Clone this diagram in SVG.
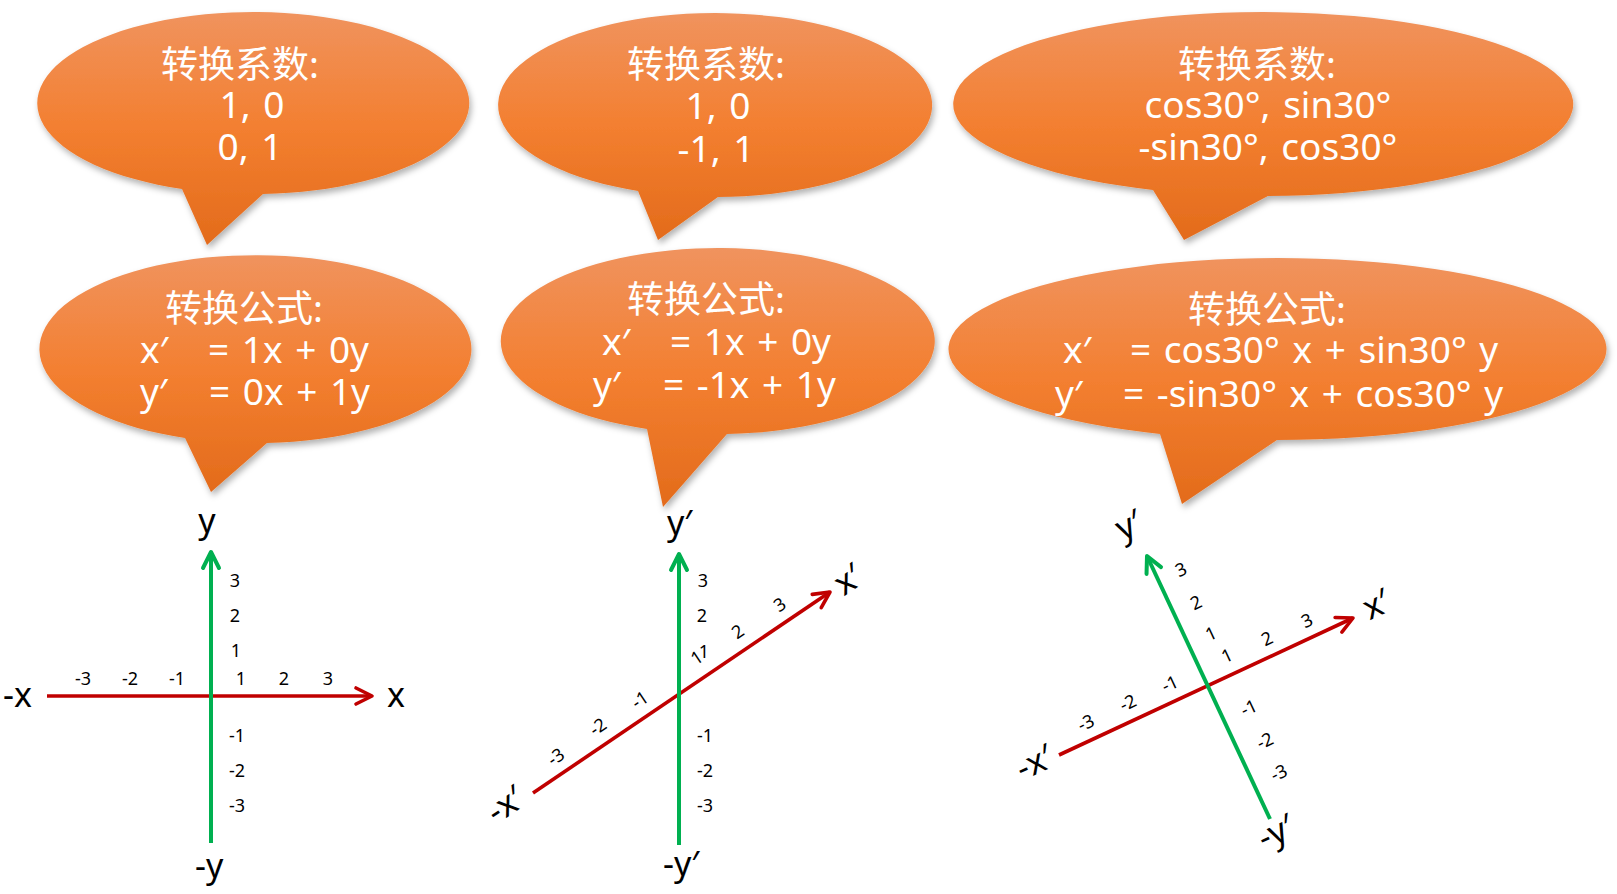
<svg xmlns="http://www.w3.org/2000/svg" width="1617" height="894" viewBox="0 0 1617 894">
<defs>
  <linearGradient id="og" x1="0" y1="0" x2="0" y2="1">
    <stop offset="0" stop-color="#F0935E"/>
    <stop offset="0.5" stop-color="#F37F30"/>
    <stop offset="1" stop-color="#E36B1B"/>
  </linearGradient>
  <filter id="sh" x="-10%" y="-10%" width="120%" height="130%">
    <feDropShadow dx="2" dy="4" stdDeviation="3" flood-color="#000" flood-opacity="0.3"/>
  </filter>
  <marker id="ag" viewBox="-20 -12 24 24" refX="0" refY="0" markerWidth="24" markerHeight="24" markerUnits="userSpaceOnUse" orient="auto" overflow="visible">
    <path d="M-16,-8 L0,0 L-16,8" fill="none" stroke="#00B050" stroke-width="4" stroke-linecap="round" stroke-linejoin="round"/>
  </marker>
  <marker id="ar" viewBox="-20 -12 24 24" refX="0" refY="0" markerWidth="24" markerHeight="24" markerUnits="userSpaceOnUse" orient="auto" overflow="visible">
    <path d="M-16,-8 L0,0 L-16,8" fill="none" stroke="#C00000" stroke-width="3.6" stroke-linecap="round" stroke-linejoin="round"/>
  </marker>
</defs>
<style>
  .bub { fill: url(#og); filter: url(#sh); }
  .bt { font-family: "Noto Sans", "Noto Sans CJK SC", sans-serif; font-size: 37px; fill: #FFFFFF; word-spacing: 3px; }
  .c { text-anchor: middle; }
  .ax { font-family: "Noto Sans", "Noto Sans CJK SC", sans-serif; font-size: 34px; fill: #000000; }
  .tk { font-family: "Noto Sans", sans-serif; font-size: 18px; fill: #000000; text-anchor: middle; }
  .g { stroke: #00B050; stroke-width: 4; fill: none; }
  .r { stroke: #C00000; stroke-width: 3.6; fill: none; }
</style>
<rect width="1617" height="894" fill="#FFFFFF"/>

<g id="bubble-coef-1">
  <path class="bub" d="M182,189 A216,91 0 1 1 263,194 L207,245 Z"/>
  <text class="bt c" x="240" y="78">转换系数:</text>
  <text class="bt c" x="252" y="118">1, 0</text>
  <text class="bt c" x="250" y="160">0, 1</text>
</g>
<g id="bubble-formula-1">
  <path class="bub" d="M185,438 A216,94 0 1 1 267,443 L211,492 Z"/>
  <text class="bt c" x="244" y="322">转换公式:</text>
  <text class="bt" x="140" y="363">x′<tspan x="208">= 1x + 0y</tspan></text>
  <text class="bt" x="140" y="405">y′<tspan x="209">= 0x + 1y</tspan></text>
</g>
<g id="bubble-coef-2">
  <path class="bub" d="M638,191 A217,92 0 1 1 718,197 L658,240 Z"/>
  <text class="bt c" x="706" y="78">转换系数:</text>
  <text class="bt c" x="718" y="119">1, 0</text>
  <text class="bt c" x="716" y="162">-1, 1</text>
</g>
<g id="bubble-formula-2">
  <path class="bub" d="M647,429 A217,93 0 1 1 727,434 L663,507 Z"/>
  <text class="bt c" x="706" y="313">转换公式:</text>
  <text class="bt" x="602" y="355">x′<tspan x="670">= 1x + 0y</tspan></text>
  <text class="bt" x="593" y="398">y′<tspan x="663">= -1x + 1y</tspan></text>
</g>
<g id="bubble-coef-3">
  <path class="bub" d="M1153,190 A310,92 0 1 1 1268,196 L1184,240 Z"/>
  <text class="bt c" x="1257" y="78">转换系数:</text>
  <text class="bt c" x="1268" y="118">cos30°, sin30°</text>
  <text class="bt c" x="1268" y="160">-sin30°, cos30°</text>
</g>
<g id="bubble-formula-3">
  <path class="bub" d="M1160,434 A329,91 0 1 1 1277,440 L1182,504 Z"/>
  <text class="bt c" x="1267" y="323">转换公式:</text>
  <text class="bt" x="1063" y="363">x′<tspan x="1130">= cos30° x + sin30° y</tspan></text>
  <text class="bt" x="1055" y="407">y′<tspan x="1123">= -sin30° x + cos30° y</tspan></text>
</g>

<g id="axes">
  <line class="r" x1="47" y1="696" x2="372" y2="696" marker-end="url(#ar)"/>
  <line class="g" x1="211" y1="843" x2="211" y2="552" marker-end="url(#ag)"/>
  <line class="r" x1="533" y1="793" x2="830" y2="592" marker-end="url(#ar)"/>
  <line class="g" x1="679" y1="845" x2="679" y2="554" marker-end="url(#ag)"/>
  <line class="r" x1="1059" y1="755" x2="1353" y2="618" marker-end="url(#ar)"/>
  <line class="g" x1="1270" y1="819" x2="1147" y2="556" marker-end="url(#ag)"/>
</g>

<g id="plot-1">
  <text class="ax" x="207" y="533" text-anchor="middle">y</text>
  <text class="ax" x="3" y="707">-x</text>
  <text class="ax" x="387" y="707">x</text>
  <text class="ax" x="195" y="878">-y</text>
  <text class="tk" x="235" y="587">3</text>
  <text class="tk" x="235" y="622">2</text>
  <text class="tk" x="236" y="657">1</text>
  <text class="tk" x="83" y="685">-3</text>
  <text class="tk" x="130" y="685">-2</text>
  <text class="tk" x="177" y="685">-1</text>
  <text class="tk" x="241" y="685">1</text>
  <text class="tk" x="284" y="685">2</text>
  <text class="tk" x="328" y="685">3</text>
  <text class="tk" x="237" y="742">-1</text>
  <text class="tk" x="237" y="777">-2</text>
  <text class="tk" x="237" y="812">-3</text>
</g>

<g id="plot-2">
  <text class="ax" x="667" y="535">y′</text>
  <text class="ax" x="663" y="876">-y′</text>
  <text class="ax" text-anchor="middle" y="10" transform="translate(849,581) rotate(-34)">x′</text>
  <text class="ax" text-anchor="middle" y="10" transform="translate(506,806) rotate(-34)">-x′</text>
  <text class="tk" x="703" y="587">3</text>
  <text class="tk" x="702" y="622">2</text>
  <text class="tk" x="704" y="658">1</text>
  <text class="tk" x="705" y="742">-1</text>
  <text class="tk" x="705" y="777">-2</text>
  <text class="tk" x="705" y="812">-3</text>
  <text class="tk" y="6" transform="translate(780,605) rotate(-34)">3</text>
  <text class="tk" y="6" transform="translate(738,632) rotate(-34)">2</text>
  <text class="tk" y="6" transform="translate(697,658) rotate(-34)">1</text>
  <text class="tk" y="6" transform="translate(640,700) rotate(-34)">-1</text>
  <text class="tk" y="6" transform="translate(598,727) rotate(-34)">-2</text>
  <text class="tk" y="6" transform="translate(556,757) rotate(-34)">-3</text>
</g>

<g id="plot-3">
  <text class="ax" text-anchor="middle" y="4" transform="translate(1132,532) rotate(-25)">y′</text>
  <text class="ax" text-anchor="middle" y="10" transform="translate(1377,606) rotate(-25)">x′</text>
  <text class="ax" text-anchor="middle" y="10" transform="translate(1035,764) rotate(-25)">-x′</text>
  <text class="ax" text-anchor="middle" y="4" transform="translate(1279,839) rotate(-25)">-y′</text>
  <text class="tk" y="6" transform="translate(1181,570) rotate(-25)">3</text>
  <text class="tk" y="6" transform="translate(1196,603) rotate(-25)">2</text>
  <text class="tk" y="6" transform="translate(1211,634) rotate(-25)">1</text>
  <text class="tk" y="6" transform="translate(1227,656) rotate(-25)">1</text>
  <text class="tk" y="6" transform="translate(1267,639) rotate(-25)">2</text>
  <text class="tk" y="6" transform="translate(1307,621) rotate(-25)">3</text>
  <text class="tk" y="6" transform="translate(1170,684) rotate(-25)">-1</text>
  <text class="tk" y="6" transform="translate(1128,703) rotate(-25)">-2</text>
  <text class="tk" y="6" transform="translate(1086,723) rotate(-25)">-3</text>
  <text class="tk" y="6" transform="translate(1249,708) rotate(-25)">-1</text>
  <text class="tk" y="6" transform="translate(1265,741) rotate(-25)">-2</text>
  <text class="tk" y="6" transform="translate(1279,773) rotate(-25)">-3</text>
</g>
</svg>
